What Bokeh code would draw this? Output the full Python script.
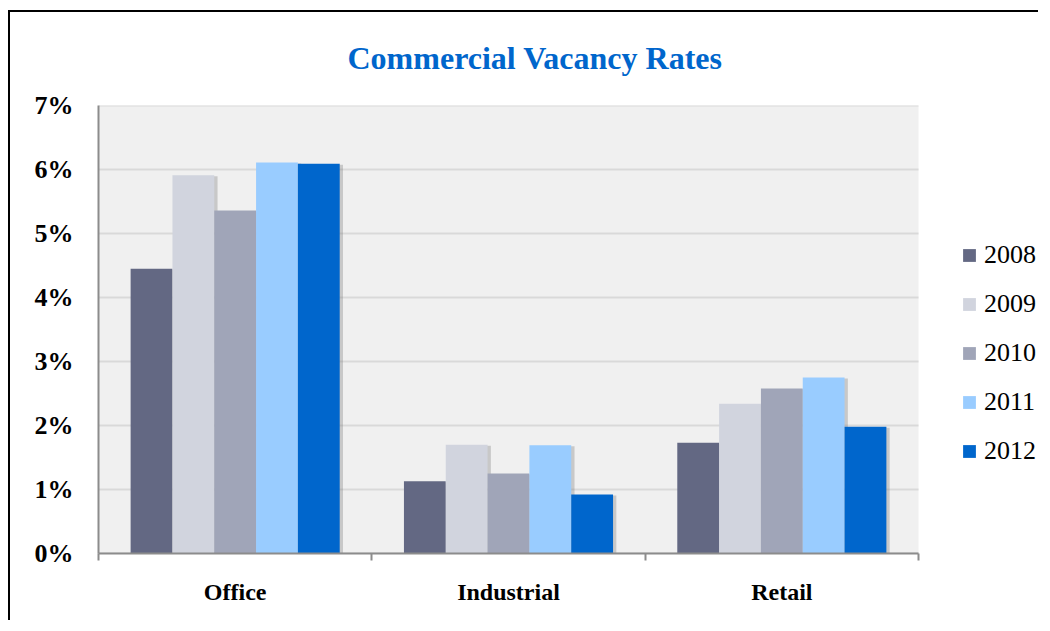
import numpy as np
from bokeh.plotting import figure
from bokeh.models import (Range1d, FixedTicker, PrintfTickFormatter, Legend, LegendItem,
                          BoxAnnotation)
from bokeh.embed import file_html
from bokeh.resources import INLINE

categories = ["Office", "Industrial", "Retail"]
years = ["2008", "2009", "2010", "2011", "2012"]
v2008 = [4.45, 1.13, 1.73]
v2009 = [5.91, 1.70, 2.34]
v2010 = [5.36, 1.25, 2.58]
v2011 = [6.11, 1.69, 2.75]
v2012 = [6.09, 0.92, 1.98]
y_ticks = [0, 1, 2, 3, 4, 5, 6, 7]
colors = ["#636883", "#D1D4DE", "#A0A5B8", "#99CCFF", "#0066CC"]

series = [v2008, v2009, v2010, v2011, v2012]

SERIF = "Liberation Serif"

W, H = 1030, 610
BL, BR, BT, BB = 88, 4, 93, 69
PLOT_PX = 820                      # pixel width of the shaded plotting area
FW = W - BL - BR
ncat = len(categories)
x_end = ncat * FW / PLOT_PX

p = figure(width=W, height=H, output_backend="svg", toolbar_location=None,
           x_range=Range1d(0, x_end), y_range=Range1d(0, max(y_ticks)),
           min_border_left=BL, min_border_top=BT, min_border_right=BR, min_border_bottom=BB,
           background_fill_color="white", border_fill_color="white",
           outline_line_color=None,
           styles={"border-top": "2px solid black", "border-left": "2px solid black",
                   "margin-left": "8px", "margin-top": "10px"})

# shaded plotting area
p.add_layout(BoxAnnotation(left=0, right=ncat, bottom=0, top=max(y_ticks),
                           fill_color="#F0F0F0", fill_alpha=1, line_color=None,
                           level="image"))
# horizontal gridlines
p.segment(x0=[0] * len(y_ticks), x1=[ncat] * len(y_ticks), y0=y_ticks, y1=y_ticks,
          line_color="#D9D9D9", line_width=2, level="underlay")

p.title.text = "Commercial Vacancy Rates"
p.title.text_font = SERIF
p.title.text_font_style = "bold"
p.title.text_font_size = "32px"
p.title.text_color = "#0066CC"
p.title.align = "left"
p.title.vertical_align = "top"
p.title.offset = 249
p.title.standoff = 55

bw = 0.153
xs = np.arange(ncat) + 0.5
items = []
for j, (yr, vals, c) in enumerate(zip(years, series, colors)):
    off = (j - 2) * bw
    p.vbar(x=xs + off + 0.012, top=np.array(vals) - 0.015, width=bw, bottom=0,
           fill_color="#7F7F7F", fill_alpha=0.35, line_color=None)
for j, (yr, vals, c) in enumerate(zip(years, series, colors)):
    off = (j - 2) * bw
    r = p.vbar(x=xs + off, top=vals, width=bw, bottom=0, fill_color=c, line_color=None)
    items.append(LegendItem(label=yr, renderers=[r]))

# y axis
p.yaxis.ticker = FixedTicker(ticks=y_ticks)
p.yaxis.formatter = PrintfTickFormatter(format="%d%%")
p.yaxis.major_label_text_font = SERIF
p.yaxis.major_label_text_font_style = "bold"
p.yaxis.major_label_text_font_size = "26px"
p.yaxis.major_label_text_color = "black"
p.yaxis.major_tick_line_color = None
p.yaxis.minor_tick_line_color = None
p.yaxis.major_tick_out = 0
p.yaxis.major_label_standoff = 25
p.yaxis.axis_line_color = "#8C8C8C"
p.yaxis.axis_line_width = 2

# x axis
p.xaxis.ticker = FixedTicker(ticks=list(xs), minor_ticks=list(range(ncat + 1)))
p.xaxis.major_label_overrides = {float(x): c for x, c in zip(xs, categories)}
p.xaxis.bounds = (0, ncat)
p.xaxis.major_label_text_font = SERIF
p.xaxis.major_label_text_font_style = "bold"
p.xaxis.major_label_text_font_size = "24px"
p.xaxis.major_label_text_color = "black"
p.xaxis.major_tick_line_color = None
p.xaxis.major_tick_out = 0
p.xaxis.major_label_standoff = 18
p.xaxis.minor_tick_line_color = "#8C8C8C"
p.xaxis.minor_tick_line_width = 2
p.xaxis.minor_tick_out = 7
p.xaxis.minor_tick_in = 0
p.xaxis.axis_line_color = "#8C8C8C"
p.xaxis.axis_line_width = 2

p.xgrid.grid_line_color = None
p.ygrid.grid_line_color = None

legend = Legend(items=items, location=(863, 87), margin=0, padding=10,
                border_line_color=None, background_fill_alpha=0,
                label_text_font=SERIF, label_text_font_size="26px",
                label_text_color="black",
                glyph_width=16, glyph_height=16, spacing=19, label_standoff=7)
p.add_layout(legend, "center")

open("out.html", "w").write(file_html(p, INLINE))
